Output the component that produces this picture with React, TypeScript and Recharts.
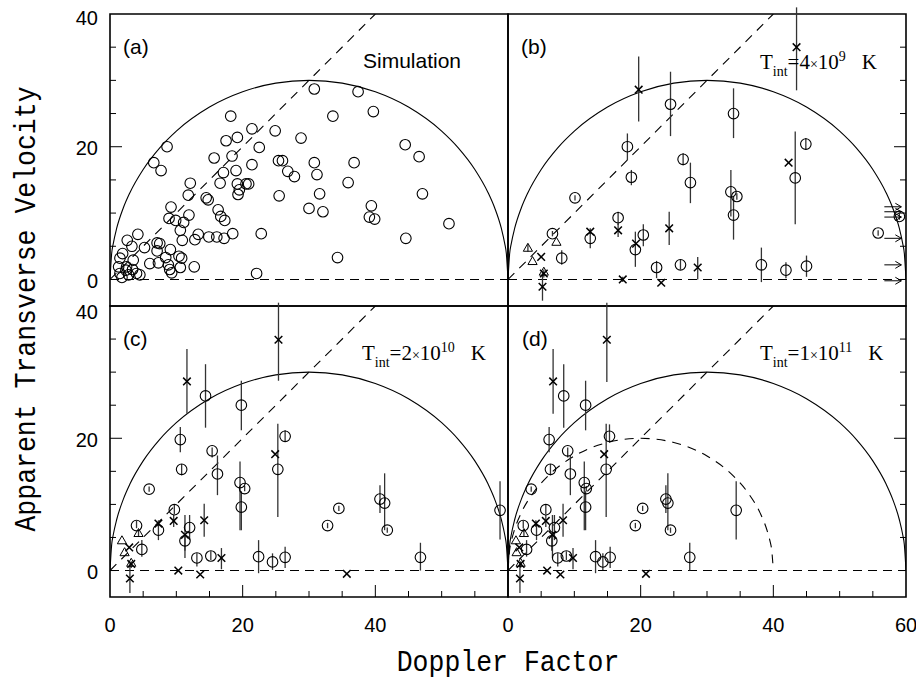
import React from "react";
import {
	ComposedChart,
	XAxis,
	YAxis,
	Scatter,
	Line,
	ErrorBar,
	ReferenceArea,
} from "recharts";

// [doppler factor, apparent velocity, bar low, bar high]
type Pt = [number, number, number?, number?];

const simPoints: [number, number][] = [
	[18.2, 24.6], [21.4, 22.7], [24.9, 22.4], [19.2, 21.4], [17.5, 20.9], [28.8, 21.3],
	[8.6, 20.0], [22.5, 19.9], [18.4, 18.6], [15.7, 18.3], [6.6, 17.6], [25.4, 17.9],
	[26.0, 17.9], [7.7, 16.4], [21.4, 17.3], [17.1, 16.1], [19.0, 16.4], [26.8, 16.3],
	[27.8, 15.5], [12.1, 14.5], [16.6, 14.5], [19.2, 14.4], [20.5, 14.4], [20.9, 14.4],
	[19.5, 13.5], [19.3, 12.8], [11.8, 12.7], [25.5, 12.6], [14.5, 12.3], [14.8, 12.0],
	[9.2, 10.9], [16.3, 10.5], [11.9, 9.7], [16.7, 9.5], [8.9, 9.2], [9.9, 8.9],
	[17.3, 8.9], [11.1, 8.6], [10.6, 7.4], [4.2, 6.8], [13.3, 6.8], [14.9, 6.4],
	[16.1, 6.4], [17.2, 6.2], [18.5, 6.9], [22.8, 6.9], [12.8, 6.0], [10.9, 5.9],
	[2.6, 5.9], [3.3, 5.0], [5.2, 4.8], [7.1, 5.5], [7.5, 5.4], [7.1, 4.3],
	[9.1, 4.5], [1.9, 3.9], [8.4, 3.3], [10.4, 3.5], [10.8, 3.2], [1.5, 3.2],
	[3.5, 2.9], [6.0, 2.4], [7.3, 2.5], [8.8, 2.2], [9.0, 1.5], [9.3, 1.0],
	[10.6, 1.8], [12.7, 1.9], [22.1, 0.9], [1.3, 1.9], [1.5, 0.9], [1.8, 0.3],
	[2.4, 1.4], [2.8, 0.7], [3.4, 1.5], [4.0, 0.9], [4.5, 0.7], [2.5, 1.9],
	[30.8, 28.7], [37.4, 28.3], [33.6, 24.6], [39.7, 25.3], [44.5, 20.3], [46.6, 18.5],
	[30.8, 17.6], [36.8, 17.6], [31.2, 15.8], [35.9, 14.6], [31.6, 12.9], [47.1, 12.9],
	[30.0, 10.7], [32.1, 10.2], [39.4, 11.1], [39.1, 9.4], [39.9, 9.1], [51.1, 8.4],
	[44.6, 6.2], [34.3, 3.3],
];

const bCircles: Pt[] = [
	[24.5, 26.4, 21.6, 31.3], [18.0, 20.0, 18.0, 22.0], [26.4, 18.1, 17.2, 19.0],
	[18.6, 15.4, 14.2, 16.5], [27.5, 14.6, 11.5, 17.6], [10.1, 12.3, 11.9, 12.7],
	[16.6, 9.3, 8.2, 10.2], [6.7, 6.9, 6.5, 7.3], [12.4, 6.2, 4.7, 7.7],
	[20.4, 6.7, 5.0, 8.3], [19.2, 4.5, 1.9, 7.2], [8.1, 3.2, 2.2, 4.4],
	[22.4, 1.8, 0.2, 2.8], [26.0, 2.2, 1.5, 3.0], [34.0, 25.0, 21.3, 28.8],
	[44.9, 20.4, 19.5, 21.3], [43.3, 15.3, 8.3, 22.3], [33.6, 13.2, 9.5, 16.5],
	[34.5, 12.5, 12.0, 13.0], [34.0, 9.7, 6.0, 12.5], [38.2, 2.2, -0.4, 4.8],
	[41.9, 1.4, 0.2, 2.6], [45.0, 2.0, 0.4, 3.6], [55.8, 7.0, 6.6, 7.4],
	[59.0, 9.5, 9.0, 10.0],
];
const bCrosses: Pt[] = [
	[19.7, 28.6, 23.8, 33.6], [12.4, 7.2], [16.6, 7.4, 6.4, 8.4], [19.3, 5.4],
	[24.3, 7.7, 5.2, 10.2], [5.0, 3.4], [5.4, 0.9, 0.3, 1.5], [5.2, -1.1, -3.2, 1.2],
	[17.3, 0.0, -0.4, 0.4], [23.1, -0.5], [28.6, 1.8, 0.0, 3.4],
	[43.5, 35.0, 28.5, 41.0], [42.3, 17.6],
];
const bTriangles: Pt[] = [[3.0, 4.7, 4.2, 5.3], [3.7, 2.7], [7.3, 5.6], [5.4, 1.1]];
// lower limits past the right edge
const bArrows: Pt[] = [[59.3, 10.95], [59.3, 10.2], [59.3, 9.4], [59.3, 6.2], [59.3, 2.2], [59.3, -0.2]];

const cCircles: Pt[] = [
	[14.4, 26.4, 21.6, 31.2], [19.8, 25.0, 21.2, 28.7], [26.4, 20.3, 19.5, 21.2],
	[10.6, 19.8, 17.9, 21.7], [15.4, 18.1, 17.1, 18.6], [10.8, 15.3, 14.4, 16.1],
	[25.3, 15.3, 8.1, 22.2], [16.2, 14.6, 11.4, 17.4], [19.6, 13.3, 6.1, 16.5],
	[20.3, 12.4, 12.0, 12.8], [19.8, 9.6, 6.1, 12.0], [5.9, 12.3, 11.9, 12.7],
	[9.7, 9.2, 8.5, 9.9], [7.3, 6.1, 4.6, 7.4], [12.0, 6.5, 4.6, 8.4],
	[11.3, 4.5, 3.0, 5.5], [4.0, 6.8, 6.4, 7.5], [4.8, 3.2, 2.1, 4.6],
	[13.1, 1.9, 0.6, 2.6], [15.2, 2.2, 1.6, 2.9], [22.4, 2.1, -0.4, 4.6],
	[24.5, 1.3, 0.1, 2.6], [26.4, 2.0, 0.4, 3.6], [40.7, 10.8, 8.7, 12.9],
	[41.4, 10.2, 6.1, 14.7], [41.8, 6.1, 5.7, 6.5], [34.5, 9.4, 9.0, 9.8],
	[32.8, 6.8, 6.4, 7.2], [46.8, 2.0, 0.0, 4.2], [58.8, 9.1, 4.7, 13.5],
];
const cCrosses: Pt[] = [
	[25.4, 34.9, 28.7, 40.5], [11.6, 28.6, 23.7, 33.5], [24.9, 17.6], [7.3, 7.1, 6.6, 7.6],
	[9.6, 7.5, 6.6, 8.4], [14.2, 7.6, 5.1, 10.1], [11.3, 5.4, 1.9, 8.4], [2.9, 3.5],
	[3.2, 1.0, 0.4, 1.4], [3.0, -1.2, -3.4, 1.1], [10.3, 0.0], [13.6, -0.6],
	[16.8, 1.9, 0.2, 3.4], [35.7, -0.5],
];
const cTriangles: Pt[] = [[1.8, 4.5], [2.2, 2.7], [4.3, 5.6, 5.1, 6.2], [3.2, 1.1]];

const dCircles: Pt[] = [
	[8.4, 26.4, 21.6, 31.2], [11.7, 25.0, 21.2, 28.7], [15.3, 20.3, 19.5, 22.1],
	[6.2, 19.8, 17.9, 21.7], [9.0, 18.1, 17.1, 18.6], [6.4, 15.3, 14.4, 16.1],
	[14.8, 15.3, 8.1, 22.2], [9.4, 14.6, 11.4, 17.4], [11.5, 13.3, 6.1, 16.5],
	[11.8, 12.4, 12.0, 12.8], [11.7, 9.6, 6.1, 12.0], [3.5, 12.3, 11.9, 12.7],
	[5.7, 9.2, 8.5, 9.9], [4.3, 6.1, 4.6, 7.4], [7.0, 6.5, 4.6, 8.4],
	[6.6, 4.5, 3.0, 5.5], [2.3, 6.8, 6.4, 7.5], [2.8, 3.2, 2.1, 4.6],
	[7.5, 1.9, 0.6, 2.6], [8.8, 2.2, 1.6, 2.9], [13.2, 2.1, -0.4, 4.6],
	[14.3, 1.3, 0.1, 2.6], [15.4, 2.0, 0.4, 3.6], [23.8, 10.8, 8.7, 12.9],
	[24.1, 10.2, 6.1, 14.7], [24.5, 6.1, 5.7, 6.5], [20.3, 9.4, 9.0, 9.8],
	[19.2, 6.8, 6.4, 7.2], [27.4, 2.0, 0.0, 4.2], [34.4, 9.1, 4.7, 13.5],
];
const dCrosses: Pt[] = [
	[14.9, 34.9, 28.5, 40.5], [6.8, 28.6, 23.7, 33.5], [14.5, 17.6], [4.2, 7.1, 6.6, 7.6],
	[5.7, 7.5, 6.6, 8.4], [8.3, 7.6, 5.1, 10.1], [6.7, 5.4, 1.9, 8.4], [1.7, 3.5],
	[1.9, 1.0, 0.4, 1.4], [1.8, -1.2, -3.4, 1.1], [5.9, 0.0], [7.9, -0.6],
	[9.8, 1.9, 0.2, 3.4], [20.8, -0.5],
];
const dTriangles: Pt[] = [[1.2, 4.5], [1.3, 2.7], [2.4, 5.6, 5.1, 6.2], [1.9, 1.1]];

// guide curves
const arcX = [0, 0.25, 0.5, 1, 2, 3, 5, 7.5, 10, 15, 20, 25, 30, 35, 40, 45, 50, 52.5, 55, 57, 58, 59, 59.5, 59.75, 60];
const arcY = [0, 3.9, 5.45, 7.68, 10.77, 13.08, 16.58, 19.84, 22.36, 25.98, 28.28, 29.58, 30, 29.58, 28.28, 25.98, 22.36, 19.84, 16.58, 13.08, 10.77, 7.68, 5.45, 3.9, 0];
const smallArcX = [0, 0.25, 0.5, 1, 2, 4, 6, 10, 15, 20, 25, 30, 34, 36, 38, 39, 39.5, 39.75, 40];
const smallArcY = [0, 3.15, 4.44, 6.24, 8.72, 12, 14.28, 17.32, 19.36, 20, 19.36, 17.32, 14.28, 12, 8.72, 6.24, 4.44, 3.15, 0];
const diagX = [0, 40];
const diagY = [0, 40];
const zeroX = [0, 60];
const zeroY = [0, 0];

const xTicks = [0, 5, 10, 15, 20, 25, 30, 35, 40, 45, 50, 55, 60];
const yTicks = [0, 5, 10, 15, 20, 25, 30, 35, 40];

const W = 916;
const H = 681;
const SANS = "'Liberation Sans', Arial, Helvetica, sans-serif";
const SERIF = "'Liberation Serif', 'Times New Roman', serif";
const MONO = "'Liberation Mono', 'DejaVu Sans Mono', monospace";

const rows = (xs: number[], ys: number[]) => xs.map((x, i) => ({ x, y: ys[i] }));
const ptRows = (pts: Pt[]) =>
	pts.map(([x, y, lo, hi]) => ({
		x,
		y,
		err: [y - (lo ?? y), (hi ?? y) - y],
	}));

const CircleShape = (p: any) => (
	<circle cx={p.cx} cy={p.cy} r={5.3} fill="none" stroke="#000" strokeWidth={1.1} />
);
const CrossShape = (p: any) => (
	<g stroke="#000" strokeWidth={1.5}>
		<line x1={p.cx - 3.8} y1={p.cy - 3.8} x2={p.cx + 3.8} y2={p.cy + 3.8} />
		<line x1={p.cx - 3.8} y1={p.cy + 3.8} x2={p.cx + 3.8} y2={p.cy - 3.8} />
	</g>
);
const TriShape = (p: any) => (
	<path
		d={`M${p.cx},${p.cy - 5} L${p.cx + 4.6},${p.cy + 3} L${p.cx - 4.6},${p.cy + 3} Z`}
		fill="none"
		stroke="#000"
		strokeWidth={1}
	/>
);
const ArrowShape = (p: any) => (
	<g stroke="#000" strokeWidth={1} fill="none">
		<line x1={p.cx - 17} y1={p.cy} x2={p.cx} y2={p.cy} />
		<path d={`M${p.cx - 6},${p.cy - 3.5} L${p.cx},${p.cy} L${p.cx - 6},${p.cy + 3.5}`} />
	</g>
);

const edgeTick =
	(side: string, labels: number[], labelShift?: (v: number) => number) => (p: any) => {
		const { x, y, payload } = p;
		const v = payload.value;
		const len = v === 20 || v === 40 ? 12 : 6;
		const vertical = side === "left" || side === "right";
		const showLine = vertical ? v < 40 : v > 0 && v < 60;
		let line = null;
		if (showLine) {
			if (side === "left") line = <line x1={x} y1={y} x2={x + len} y2={y} />;
			if (side === "right") line = <line x1={x} y1={y} x2={x - len} y2={y} />;
			if (side === "top") line = <line x1={x} y1={y} x2={x} y2={y + len} />;
			if (side === "bottom") line = <line x1={x} y1={y} x2={x} y2={y - len} />;
		}
		let label = null;
		if (labels.includes(v)) {
			if (side === "left")
				label = (
					<text x={x - 12} y={y + (labelShift ? labelShift(v) : 1.5)} textAnchor="end" dominantBaseline="central" fontFamily={SANS} fontSize={20} fill="#000" stroke="none">
						{v}
					</text>
				);
			if (side === "bottom")
				label = (
					<text x={x} y={y + 28} textAnchor="middle" dominantBaseline="central" fontFamily={SANS} fontSize={20} fill="#000" stroke="none">
						{v}
					</text>
				);
		}
		return (
			<g>
				{line && <g stroke="#000" strokeWidth={1}>{line}</g>}
				{label}
			</g>
		);
	};

type PanelProps = {
	x0: number;
	y0: number;
	x1: number;
	y1: number;
	top?: boolean;
	left?: boolean;
	right?: boolean;
	bottom?: boolean;
	xLabels?: number[];
	labelShift?: (v: number) => number;
	sim?: [number, number][];
	circles?: Pt[];
	crosses?: Pt[];
	triangles?: Pt[];
	arrows?: Pt[];
	smallArc?: boolean;
};

const Panel = (props: PanelProps) => {
	const { x0, y0, x1, y1, top, left, right, bottom } = props;
	const margin = {
		left: x0 - (left ? 1 : 0),
		top: y0 - (top ? 1 : 0),
		right: W - x1 - (right ? 1 : 0),
		bottom: H - y1 - (bottom ? 1 : 0),
	};
	const bar = (
		<ErrorBar dataKey="err" direction="y" width={0} stroke="#333" strokeWidth={1.3} />
	);
	return (
		<div style={{ position: "absolute", left: 0, top: 0 }}>
			<ComposedChart width={W} height={H} margin={margin}>
				<XAxis
					xAxisId="x"
					dataKey="x"
					type="number"
					domain={[0, 60]}
					allowDataOverflow
					ticks={xTicks}
					interval={0}
					hide={!bottom}
					height={1}
					axisLine={false}
					tickLine={false}
					tickSize={0}
					tickMargin={0}
					tick={edgeTick("bottom", props.xLabels || [])}
				/>
				{top && (
					<XAxis
						xAxisId="t"
						orientation="top"
						type="number"
						domain={[0, 60]}
						allowDataOverflow
						ticks={xTicks}
						interval={0}
						height={1}
						axisLine={false}
						tickLine={false}
						tickSize={0}
						tickMargin={0}
						tick={edgeTick("top", [])}
					/>
				)}
				<YAxis
					yAxisId="y"
					dataKey="y"
					type="number"
					domain={[-4, 40]}
					allowDataOverflow
					ticks={yTicks}
					interval={0}
					hide={!left}
					width={1}
					axisLine={false}
					tickLine={false}
					tickSize={0}
					tickMargin={0}
					tick={edgeTick("left", [0, 20, 40], props.labelShift)}
				/>
				{right && (
					<YAxis
						yAxisId="r"
						orientation="right"
						type="number"
						domain={[-4, 40]}
						allowDataOverflow
						ticks={yTicks}
						interval={0}
						width={1}
						axisLine={false}
						tickLine={false}
						tickSize={0}
						tickMargin={0}
						tick={edgeTick("right", [])}
					/>
				)}
				<ReferenceArea
					xAxisId="x"
					yAxisId="y"
					x1={0}
					x2={60}
					y1={-4}
					y2={40}
					fill="none"
					stroke="#000"
					strokeWidth={1.6}
					ifOverflow="visible"
				/>
				<Line xAxisId="x" yAxisId="y" data={rows(arcX, arcY)} dataKey="y" type="monotone" stroke="#000" strokeWidth={1.1} dot={false} activeDot={false} isAnimationActive={false} />
				<Line xAxisId="x" yAxisId="y" data={rows(diagX, diagY)} dataKey="y" type="linear" stroke="#000" strokeWidth={1.1} strokeDasharray="9 7" dot={false} activeDot={false} isAnimationActive={false} />
				<Line xAxisId="x" yAxisId="y" data={rows(zeroX, zeroY)} dataKey="y" type="linear" stroke="#000" strokeWidth={1.1} strokeDasharray="9 6" dot={false} activeDot={false} isAnimationActive={false} />
				{props.smallArc && (
					<Line xAxisId="x" yAxisId="y" data={rows(smallArcX, smallArcY)} dataKey="y" type="monotone" stroke="#000" strokeWidth={1.1} strokeDasharray="9 7" dot={false} activeDot={false} isAnimationActive={false} />
				)}
				{props.sim && (
					<Scatter xAxisId="x" yAxisId="y" dataKey="y" data={props.sim.map(([x, y]) => ({ x, y }))} shape={CircleShape} isAnimationActive={false} />
				)}
				{props.circles && (
					<Scatter xAxisId="x" yAxisId="y" dataKey="y" data={ptRows(props.circles)} shape={CircleShape} isAnimationActive={false}>
						{bar}
					</Scatter>
				)}
				{props.triangles && (
					<Scatter xAxisId="x" yAxisId="y" dataKey="y" data={ptRows(props.triangles)} shape={TriShape} isAnimationActive={false}>
						{bar}
					</Scatter>
				)}
				{props.crosses && (
					<Scatter xAxisId="x" yAxisId="y" dataKey="y" data={ptRows(props.crosses)} shape={CrossShape} isAnimationActive={false}>
						{bar}
					</Scatter>
				)}
				{props.arrows && (
					<Scatter xAxisId="x" yAxisId="y" dataKey="y" data={ptRows(props.arrows)} shape={ArrowShape} isAnimationActive={false} />
				)}
			</ComposedChart>
		</div>
	);
};

const TLabel = ({ x, y, mant, exp }: { x: number; y: number; mant: string; exp: string }) => (
	<text x={x} y={y} fontFamily={SERIF} fontSize={21} fill="#000">
		T
		<tspan dy={7} fontSize={14}>int</tspan>
		<tspan dy={-7}>={mant}</tspan>
		<tspan fontSize={14}>×</tspan>
		<tspan>10</tspan>
		<tspan dy={-8} fontSize={14}>{exp}</tspan>
		<tspan dy={8} dx={16}>K</tspan>
	</text>
);

const App = () => {
	const topShift = (v: number) => (v === 40 ? 4 : 1.5);
	const botShift = (v: number) => (v === 40 ? 6 : 1.5);
	return (
		<div style={{ position: "absolute", left: 0, top: 0, width: W, height: H, background: "#fff" }}>
			<Panel x0={110} y0={14} x1={508} y1={306} top left labelShift={topShift} sim={simPoints} />
			<Panel x0={508} y0={14} x1={906} y1={306} top right circles={bCircles} crosses={bCrosses} triangles={bTriangles} arrows={bArrows} />
			<Panel x0={110} y0={306} x1={508} y1={597} left bottom xLabels={[0, 20, 40]} labelShift={botShift} circles={cCircles} crosses={cCrosses} triangles={cTriangles} />
			<Panel x0={508} y0={306} x1={906} y1={597} right bottom xLabels={[0, 20, 40, 60]} circles={dCircles} crosses={dCrosses} triangles={dTriangles} smallArc />
			<svg width={W} height={H} style={{ position: "absolute", left: 0, top: 0, pointerEvents: "none" }}>
				<g fontFamily={SANS} fontSize={21} fill="#000">
					<text x={123} y={53.5}>(a)</text>
					<text x={521} y={53.5}>(b)</text>
					<text x={123} y={345.5}>(c)</text>
					<text x={522} y={345.5}>(d)</text>
					<text x={363} y={68}>Simulation</text>
				</g>
				<TLabel x={760} y={69} mant="4" exp="9" />
				<TLabel x={362} y={359.5} mant="2" exp="10" />
				<TLabel x={760} y={359.5} mant="1" exp="11" />
				<text transform="translate(508,671) scale(1,1.12)" textAnchor="middle" fontFamily={MONO} fontSize={26.5} fill="#000">
					Doppler Factor
				</text>
				<text transform="translate(35,309) rotate(-90) scale(1,1.12)" textAnchor="middle" fontFamily={MONO} fontSize={26.5} fill="#000">
					Apparent Transverse Velocity
				</text>
			</svg>
		</div>
	);
};

export default App;
